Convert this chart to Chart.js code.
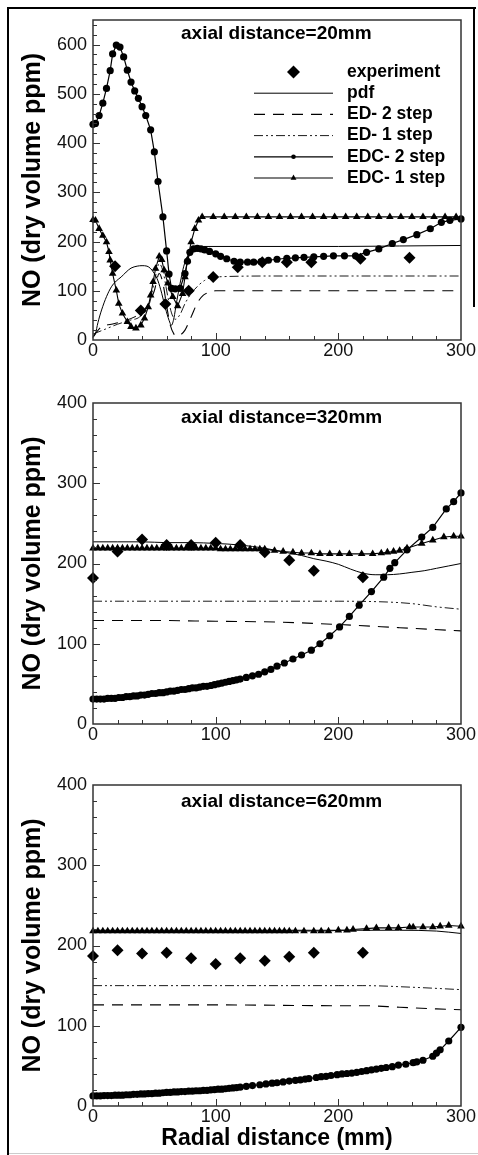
<!DOCTYPE html>
<html>
<head>
<meta charset="utf-8">
<title>NO profiles</title>
<script src="https://cdn.jsdelivr.net/npm/chart.js@4.4.1/dist/chart.umd.min.js"></script>
<style>
  html, body { margin: 0; padding: 0; background: #fff; }
  #figure { position: relative; width: 478px; height: 1155px; overflow: hidden; background: #fff; }
  #figure canvas { position: absolute; left: 0; }
  .edge { position: absolute; background: #000; }
</style>
</head>
<body>
<div id="figure">
  <div class="edge" style="left:7px;top:7px;width:2px;height:1148px"></div>
  <div class="edge" style="left:7px;top:7px;width:469px;height:2px"></div>
  <div class="edge" style="left:473px;top:7px;width:2px;height:300px"></div>
  <div class="edge" style="left:9px;top:1153px;width:469px;height:1px;background:#ccc"></div>
  <canvas id="chart20" width="478" height="370" style="top:0"></canvas>
  <canvas id="chart320" width="478" height="380" style="top:370px"></canvas>
  <canvas id="chart620" width="478" height="395" style="top:760px"></canvas>
</div>
<script>
// ---- axial distance = 20 mm ----
const exp20_r = [18, 39, 59, 78, 98, 118, 138, 158, 178, 218, 258];
const exp20_no = [150, 60, 73, 100, 128, 148, 158, 158, 158, 165, 167];

const pdf20_r = [0, 2, 4, 7, 11, 15, 19, 23, 27, 31, 36, 40, 44, 47, 50, 53, 56, 59, 62, 64, 66, 68, 71, 74, 77, 80, 84, 90, 150, 200, 250, 300];
const pdf20_no = [5, 13, 35, 61, 88, 108, 120, 128, 138, 146, 150, 151, 150, 145, 135, 120, 95, 65, 40, 30, 45, 75, 115, 150, 170, 182, 188, 190, 190, 190, 191, 192];

const ed2_20_r = [0, 7, 15, 23, 34, 42, 46, 50, 54, 57, 60, 63, 66, 68, 71, 75, 80, 85, 90, 95, 100, 150, 200, 250, 300];
const ed2_20_no = [7, 27, 32, 37, 47, 61, 77, 100, 135, 115, 70, 30, 12, 8, 10, 20, 47, 75, 91, 97, 100, 100, 100, 100, 100];

const ed1_20_r = [0, 10, 20, 30, 38, 46, 50, 54, 57, 61, 64, 67, 71, 75, 80, 86, 91, 99, 150, 200, 250, 300];
const ed1_20_no = [12, 22, 32, 40, 47, 74, 118, 155, 140, 88, 55, 42, 52, 74, 94, 111, 121, 128, 130, 130, 130, 130];

const edc2_20_r = [0, 2, 5, 8, 11, 14, 16, 19, 22, 25, 28, 31, 34, 37, 40, 43, 47, 50, 53, 57,
  60, 62, 64, 67, 71, 75, 77, 79, 82, 85, 88, 91, 95, 100, 104, 109, 115, 120, 126, 131,
  137, 143, 150, 158, 165, 172, 180, 188, 196, 205, 214, 223, 233, 244, 253, 264, 275, 284, 291, 300];
const edc2_20_no = [438, 440, 456, 481, 511, 547, 581, 599, 595, 575, 548, 524, 506, 491, 474, 456, 427, 382, 322, 250,
  181, 134, 105, 104, 105, 135, 160, 178, 185, 186, 185, 183, 180, 175, 170, 165, 160, 158, 158, 158,
  159, 162, 164, 166, 167, 168, 169, 170, 171, 171, 171, 178, 185, 196, 204, 214, 226, 239, 243, 246];

const edc1_20_r = [0, 2, 5, 8, 11, 13, 14, 16, 19, 21, 24, 28, 31, 35, 39, 42, 45, 47, 49, 51,
  54, 56, 58, 61, 65, 69, 73, 75, 77, 80, 83, 86, 89, 98, 107, 116, 125, 134, 143, 152,
  161, 170, 179, 188, 197, 206, 215, 224, 233, 242, 251, 260, 269, 278, 287, 296];
const edc1_20_no = [244, 243, 226, 212, 199, 179, 162, 135, 101, 74, 54, 37, 27, 24, 30, 44, 67, 91, 118, 145,
  170, 163, 142, 115, 88, 69, 94, 128, 162, 199, 226, 243, 250, 250, 250, 250, 250, 250, 250, 250,
  250, 250, 250, 250, 250, 250, 250, 250, 250, 250, 250, 250, 250, 250, 250, 250];

// ---- axial distance = 320 mm ----
const exp320_r = [0, 20, 40, 60, 80, 100, 120, 140, 160, 180, 220];
const exp320_no = [182, 215, 230, 223, 223, 226, 223, 214, 204, 191, 183];

const pdf320_r = [0, 20, 40, 60, 80, 100, 120, 140, 160, 170, 180, 190, 200, 210, 220, 230, 240, 250, 260, 270, 280, 290, 300];
const pdf320_no = [227, 227, 227, 226, 226, 225, 223, 219, 213, 210, 206, 203, 199, 193, 188, 186, 186, 187, 189, 191, 194, 197, 200];

const ed2_320_r = [0, 50, 100, 150, 200, 250, 275, 300];
const ed2_320_no = [129, 129, 128, 127, 124, 120, 118, 116];

const ed1_320_r = [0, 50, 100, 150, 200, 240, 260, 280, 300];
const ed1_320_no = [153, 153, 153, 153, 153, 152, 150, 146, 143];

const edc2_320_r = [0, 3, 6, 9, 12, 15, 18, 21, 24, 27, 30, 33, 36, 39, 42, 45, 48, 51, 54, 57,
  60, 63, 66, 69, 72, 75, 78, 81, 84, 87, 90, 93, 96, 99, 102, 105, 108, 111, 114, 117,
  120, 125, 130, 135, 140, 145, 150, 156, 163, 170, 178, 185, 193, 201, 209, 217, 227, 237, 242, 246,
  256, 268, 277, 288, 294, 300];
const edc2_320_no = [31, 31, 31, 31, 32, 32, 32, 33, 33, 34, 34, 35, 35, 36, 36, 37, 38, 38, 39, 39,
  40, 41, 41, 42, 43, 43, 44, 45, 45, 46, 47, 47, 48, 49, 50, 51, 52, 53, 54, 55,
  56, 58, 60, 62, 65, 68, 72, 76, 81, 86, 92, 100, 110, 121, 134, 148, 165, 183, 194, 201,
  217, 233, 245, 268, 277, 288];

const edc1_320_r = [0, 4, 8, 12, 16, 20, 24, 28, 32, 36, 40, 44, 48, 52, 56, 60, 64, 68, 72, 76,
  80, 84, 88, 92, 96, 100, 104, 108, 112, 116, 120, 124, 128, 132, 136, 140,
  148, 155, 163, 170, 178, 185, 193, 201, 209, 219, 228, 235, 240, 245, 250, 256, 268, 277, 286, 294, 300];
const edc1_320_no = [219, 219, 219, 219, 219, 219, 219, 219, 219, 219, 219, 219, 219, 219, 219, 219, 219, 219, 219, 219,
  219, 219, 219, 219, 219, 219, 218, 218, 218, 218, 218, 218, 218, 218, 218, 218,
  216, 215, 214, 213, 213, 212, 212, 212, 212, 212, 212, 213, 214, 215, 216, 219, 225, 229, 233, 234, 234];

// ---- axial distance = 620 mm ----
const exp620_r = [0, 20, 40, 60, 80, 100, 120, 140, 160, 180, 220];
const exp620_no = [187, 194, 190, 191, 184, 177, 184, 181, 186, 191, 191];

const pdf620_r = [0, 100, 200, 250, 280, 300];
const pdf620_no = [219, 219, 219, 219, 218, 215];

const ed2_620_r = [0, 100, 200, 220, 250, 280, 300];
const ed2_620_no = [126, 126, 125, 125, 123, 121, 120];

const ed1_620_r = [0, 100, 200, 220, 260, 300];
const ed1_620_no = [150, 150, 150, 150, 148, 145];

const edc2_620_r = [0, 3, 6, 9, 12, 15, 18, 21, 24, 27, 30, 33, 36, 39, 42, 45, 48, 51, 54, 57,
  60, 63, 66, 69, 72, 75, 78, 81, 84, 87, 90, 93, 96, 99, 102, 105, 108, 111, 114, 117,
  120, 125, 130, 136, 141, 146, 150, 155, 160, 165, 169, 173, 176, 182, 186, 190, 194, 199, 203, 207,
  211, 215, 219, 223, 227, 231, 235, 239, 244, 249, 255, 261, 264, 269, 277, 280, 283, 290, 300];
const edc2_620_no = [12.5, 12.5, 12.5, 13, 13, 13, 13.5, 13.5, 13.5, 14, 14, 14.5, 14.5, 15, 15, 15.5, 15.5, 16, 16, 16.5,
  17, 17, 17.5, 17.5, 18, 18, 18.5, 18.5, 19, 19, 19.5, 19.5, 20, 20.5, 21, 21, 21.5, 22, 22.5, 23,
  23.5, 24.5, 25.5, 26.5, 27.5, 28.5, 29, 30, 31, 32, 32.5, 33.5, 34, 35.5, 36.5, 37, 38, 39, 40, 40.5,
  41, 42, 43, 44, 45, 46, 47, 48, 49, 51, 52, 54, 55, 57, 62, 66, 70, 81, 98];

const edc1_620_r = [0, 4, 8, 12, 16, 20, 24, 28, 32, 36, 40, 44, 48, 52, 56, 60, 64, 68, 72, 76,
  80, 84, 88, 92, 96, 100, 104, 108, 112, 116, 120, 124, 128, 132, 136, 140, 144, 148, 152, 156, 160,
  165, 172, 180, 186, 192, 200, 207, 212, 223, 231, 241, 249, 258, 261, 269, 277, 283, 290, 300];
const edc1_620_no = [218, 218, 218, 218, 218, 218, 218, 218, 218, 218, 218, 218, 218, 218, 218, 218, 218, 218, 218, 218,
  218, 218, 218, 218, 218, 218, 218, 218, 218, 218, 218, 218, 218, 218, 218, 218, 218, 218, 218, 218, 218,
  218, 218, 218, 218, 218, 219, 219, 220, 221, 222, 222, 222, 223, 223, 223, 223, 224, 225, 224];

const seriesNames = ['experiment', 'pdf', 'ED- 2 step', 'ED- 1 step', 'EDC- 2 step', 'EDC- 1 step'];
const xTicks = [0, 100, 200, 300];

(() => {
    'use strict';

    const FONT = "'Liberation Sans', Arial, Helvetica, sans-serif";
    const INK = '#000';

    // Zip two value lists into {x, y} points
    function points(rs, nos) {
        return rs.map((r, i) => ({x: r, y: nos[i]}));
    }

    // One panel's six datasets, in legend order
    function panelDatasets(src) {
        const line = {showLine: true, pointRadius: 0, borderColor: INK, clip: false,
            cubicInterpolationMode: 'monotone'};
        return [{
            label: seriesNames[0],
            data: points(src.exp[0], src.exp[1]),
            pointStyle: 'rectRot', pointRadius: 6, backgroundColor: INK,
            borderColor: INK, borderWidth: 0, showLine: false, clip: false,
            legendRadius: 6.5
        }, Object.assign({}, line, {
            label: seriesNames[1],
            data: points(src.pdf[0], src.pdf[1]),
            borderWidth: 1
        }), Object.assign({}, line, {
            label: seriesNames[2],
            data: points(src.ed2[0], src.ed2[1]),
            borderWidth: 1.1, borderDash: [11, 8]
        }), Object.assign({}, line, {
            label: seriesNames[3],
            data: points(src.ed1[0], src.ed1[1]),
            borderWidth: 0.9, borderDash: [9, 3, 2, 3, 2, 3]
        }), {
            label: seriesNames[4],
            data: points(src.edc2[0], src.edc2[1]),
            showLine: true, borderColor: INK, borderWidth: 1.2, clip: false,
            pointStyle: 'circle', pointRadius: 3.6, backgroundColor: INK, pointBorderWidth: 0,
            legendRadius: 2.3
        }, {
            label: seriesNames[5],
            data: points(src.edc1[0], src.edc1[1]),
            showLine: true, borderColor: INK, borderWidth: 1.1, clip: false,
            pointStyle: 'triangle', pointRadius: 4.4, backgroundColor: INK, pointBorderWidth: 0,
            legendRadius: 3.4
        }];
    }

    // Plot frame plus inward minor/major ticks every 20 units
    const frameTicks = {
        id: 'frameTicks',
        afterDatasetsDraw(chart) {
            const {ctx, chartArea: a, scales: {x, y}} = chart;
            ctx.save();
            ctx.strokeStyle = '#333';
            ctx.lineWidth = 1.5;
            ctx.strokeRect(a.left, a.top, a.right - a.left, a.bottom - a.top);

            ctx.lineWidth = 1;
            ctx.beginPath();
            for (let v = 20; v < x.max; v += 20) {
                const px = Math.round(x.getPixelForValue(v)) + 0.5;
                const len = v % 100 === 0 ? 7 : 4;
                ctx.moveTo(px, a.bottom);
                ctx.lineTo(px, a.bottom - len);
            }
            for (let v = 20; v < y.max; v += 20) {
                const py = Math.round(y.getPixelForValue(v)) + 0.5;
                const len = v % 100 === 0 ? 7 : 4;
                ctx.moveTo(a.left, py);
                ctx.lineTo(a.left + len, py);
            }
            ctx.stroke();
            ctx.restore();
        }
    };

    // Panel heading inside the plot area
    const caption = {
        id: 'caption',
        afterDraw(chart, args, opts) {
            if (!opts.text) return;
            const ctx = chart.ctx;
            ctx.save();
            ctx.font = 'bold 19px ' + FONT;
            ctx.fillStyle = INK;
            ctx.textAlign = 'left';
            ctx.textBaseline = 'middle';
            ctx.fillText(opts.text, opts.x, opts.y);
            ctx.restore();
        }
    };

    // Line + marker legend drawn inside the first panel
    const sampleLegend = {
        id: 'sampleLegend',
        afterDraw(chart, args, opts) {
            if (!opts.show) return;
            const ctx = chart.ctx;
            ctx.save();
            chart.data.datasets.forEach((ds, i) => {
                const y = opts.top + opts.step * i;
                ctx.strokeStyle = INK;
                ctx.fillStyle = INK;
                if (ds.showLine) {
                    ctx.lineWidth = ds.borderWidth;
                    ctx.setLineDash(ds.borderDash || []);
                    ctx.beginPath();
                    ctx.moveTo(opts.x0, y);
                    ctx.lineTo(opts.x1, y);
                    ctx.stroke();
                    ctx.setLineDash([]);
                }
                if (ds.legendRadius) {
                    Chart.helpers.drawPoint(ctx, {
                        pointStyle: ds.pointStyle,
                        radius: ds.legendRadius,
                        rotation: 0,
                        borderWidth: 0
                    }, (opts.x0 + opts.x1) / 2, y);
                }
                ctx.font = 'bold 17.5px ' + FONT;
                ctx.textAlign = 'left';
                ctx.textBaseline = 'middle';
                ctx.fillText(ds.label, opts.textX, y);
            });
            ctx.restore();
        }
    };

    function drawPanel(id, src, panel) {
        const tickFont = {family: FONT, size: 18};
        const titleFont = {family: FONT, size: 25, weight: 'bold'};

        const config = {
            type: 'scatter',
            data: {datasets: panelDatasets(src)},
            options: {
                responsive: false,
                animation: false,
                events: [],
                layout: {padding: {top: panel.top, right: 17, left: 0, bottom: 0}},
                scales: {
                    x: {
                        type: 'linear',
                        min: 0,
                        max: 300,
                        afterBuildTicks: s => { s.ticks = xTicks.map(v => ({value: v})); },
                        ticks: {font: tickFont, color: '#111', padding: 0, maxRotation: 0, autoSkip: false},
                        grid: {display: false, drawTicks: false},
                        border: {display: false},
                        title: {
                            display: !!panel.xTitle,
                            text: panel.xTitle || '',
                            font: {family: FONT, size: 23, weight: 'bold'},
                            color: INK,
                            padding: {top: 0, bottom: 3}
                        },
                        afterFit: s => { s.height = panel.xHeight; }
                    },
                    y: {
                        type: 'linear',
                        min: 0,
                        max: panel.yMax,
                        ticks: {stepSize: 100, includeBounds: false, font: tickFont, color: '#111', padding: 6},
                        grid: {display: false, drawTicks: false},
                        border: {display: false},
                        title: {
                            display: true,
                            text: 'NO (dry volume ppm)',
                            font: titleFont,
                            color: INK,
                            padding: {top: 18, bottom: 0}
                        },
                        afterFit: s => { s.width = 93; }
                    }
                },
                plugins: {
                    legend: {display: false},
                    tooltip: {enabled: false},
                    caption: {text: panel.caption, x: 181, y: panel.captionY},
                    sampleLegend: {show: !!panel.legend, x0: 254, x1: 333, textX: 347, top: 72, step: 21.2}
                }
            },
            plugins: [frameTicks, caption, sampleLegend]
        };

        // Draw Chart
        return new Chart(document.getElementById(id), config);
    }

    drawPanel('chart20', {
        exp: [exp20_r, exp20_no], pdf: [pdf20_r, pdf20_no], ed2: [ed2_20_r, ed2_20_no],
        ed1: [ed1_20_r, ed1_20_no], edc2: [edc2_20_r, edc2_20_no], edc1: [edc1_20_r, edc1_20_no]
    }, {top: 20, xHeight: 30, yMax: 650, caption: 'axial distance=20mm', captionY: 34, legend: true});

    drawPanel('chart320', {
        exp: [exp320_r, exp320_no], pdf: [pdf320_r, pdf320_no], ed2: [ed2_320_r, ed2_320_no],
        ed1: [ed1_320_r, ed1_320_no], edc2: [edc2_320_r, edc2_320_no], edc1: [edc1_320_r, edc1_320_no]
    }, {top: 33, xHeight: 26, yMax: 400, caption: 'axial distance=320mm', captionY: 48});

    drawPanel('chart620', {
        exp: [exp620_r, exp620_no], pdf: [pdf620_r, pdf620_no], ed2: [ed2_620_r, ed2_620_no],
        ed1: [ed1_620_r, ed1_620_no], edc2: [edc2_620_r, edc2_620_no], edc1: [edc1_620_r, edc1_620_no]
    }, {top: 25, xHeight: 49, yMax: 400, caption: 'axial distance=620mm', captionY: 42,
        xTitle: 'Radial distance (mm)'});
})();
</script>
</body>
</html>
